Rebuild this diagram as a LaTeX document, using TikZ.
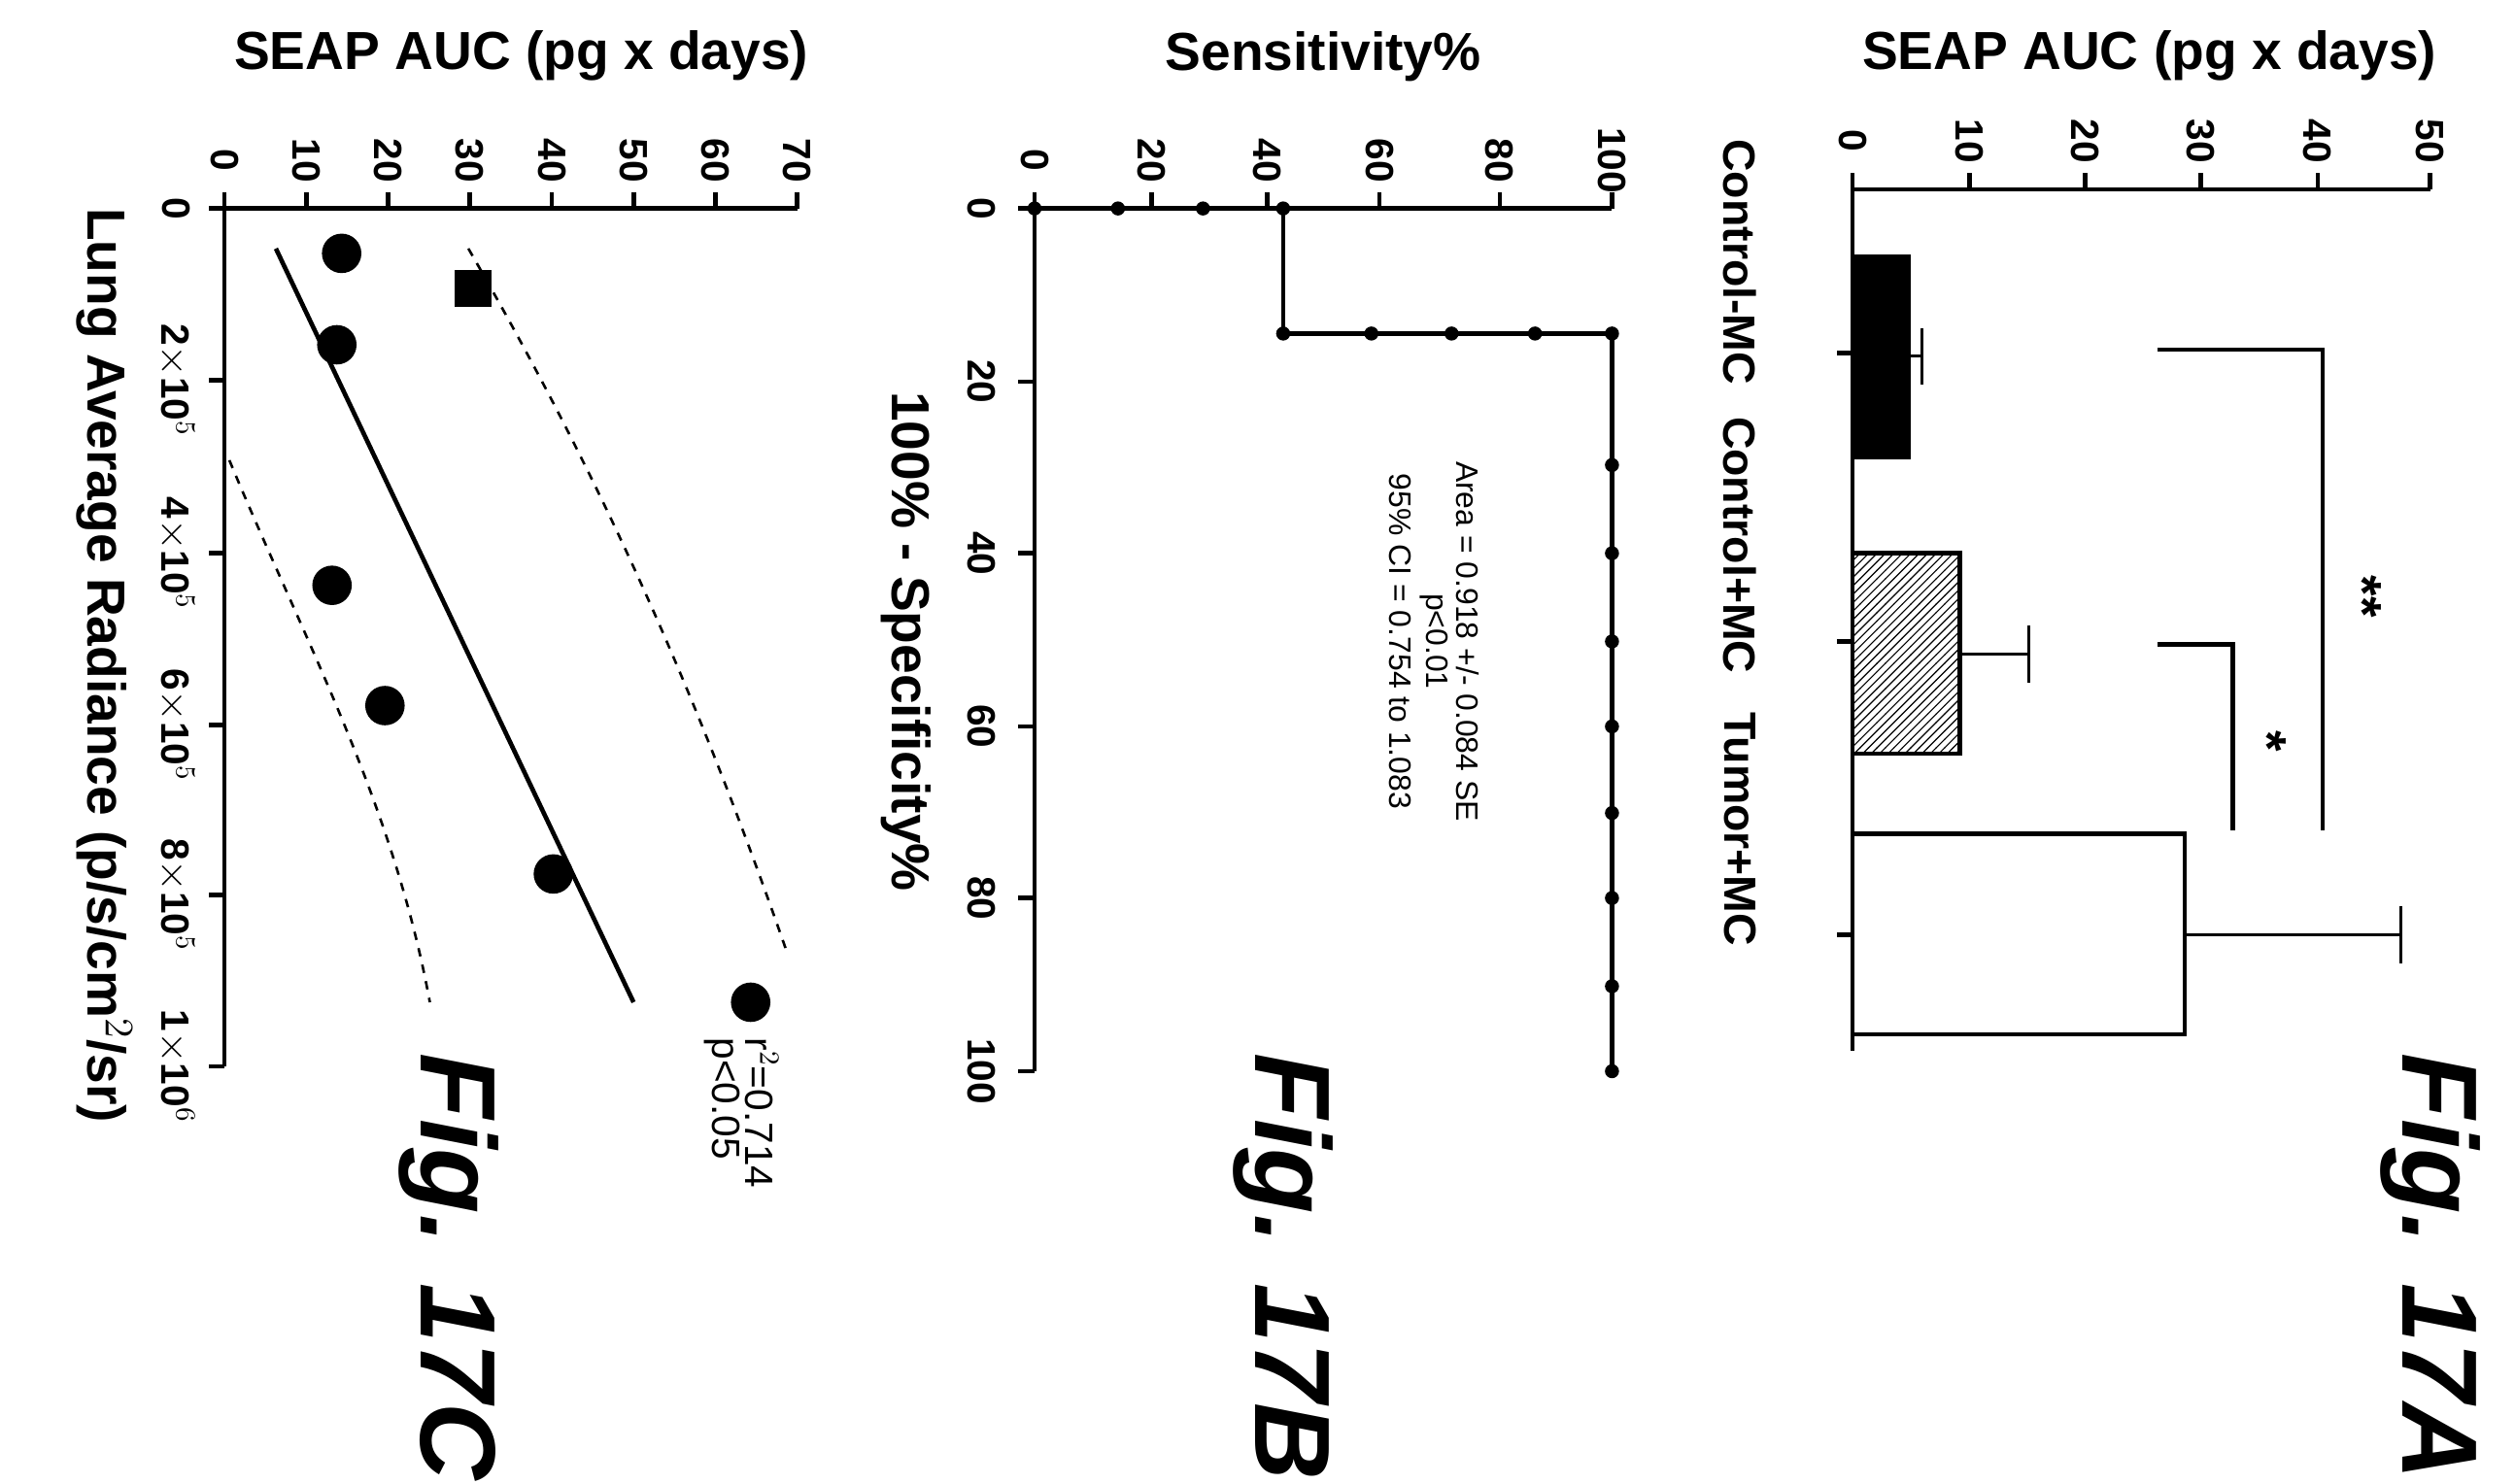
\documentclass[tikz,border=0pt]{standalone}
\usepackage{fontspec}
\setmainfont{Liberation Sans}
\usetikzlibrary{patterns}
\begin{document}
\begin{tikzpicture}[x=0.02cm,y=-0.02cm,
  ax/.style={line width=1.6pt},
  tk/.style={font=\fontsize{14}{15}\selectfont\bfseries,rotate=-90,inner sep=1pt},
  ttl/.style={font=\fontsize{19}{20}\selectfont\bfseries,inner sep=1pt},
  figl/.style={font=\fontsize{38}{40}\selectfont\bfseries\itshape,rotate=-90},
  sm/.style={font=\fontsize{11}{12}\selectfont,rotate=-90,inner sep=1pt},
  dot/.style={circle,fill=black,inner sep=0pt,minimum size=14pt},
  rd/.style={circle,fill=black,inner sep=0pt,minimum size=5pt}]
\useasboundingbox (0,0) rectangle (1568,925);
% ================= Panel A =================
\node[ttl] (ta) at (1340,35) {SEAP AUC (pg x days)};
\draw[ax] (1155,118) -- (1515,118);
\draw[ax] (1155,118) -- (1155,655);
\foreach \v/\x in {0/1155,10/1228,20/1300,30/1372,40/1445,50/1515}{
  \draw[ax] (\x,118) -- (\x,108);
  \node[tk] at (\x,88) {\v};}
\foreach \y in {220,400,583}{\draw[ax] (1155,\y) -- (1145,\y);}
\node[tk,anchor=east,font=\fontsize{16}{17}\selectfont\bfseries] at (1085,242) {Control-MC};
\node[tk,anchor=east,font=\fontsize{16}{17}\selectfont\bfseries] at (1085,422) {Control+MC};
\node[tk,anchor=east,font=\fontsize{16}{17}\selectfont\bfseries] at (1085,592) {Tumor+MC};
% bars
\draw[ax,fill=black] (1155,160) rectangle (1190,285);
\draw[line width=1pt] (1190,222) -- (1198,222) (1198,205) -- (1198,240);
\draw[ax,pattern=north east lines,pattern color=black] (1155,345) rectangle (1222,470);
\draw[line width=1pt] (1222,408) -- (1265,408) (1265,390) -- (1265,426);
\draw[ax,fill=white] (1155,520) rectangle (1362,645);
\draw[line width=1pt] (1362,583) -- (1497,583) (1497,565) -- (1497,601);
% brackets
\draw[ax] (1345,218) -- (1448,218) -- (1448,518);
\draw[ax] (1345,402) -- (1392,402) -- (1392,518);
\node[ttl,rotate=-90] at (1473,372) {**};
\node[ttl,rotate=-90] at (1414,462) {*};
\node[figl] (fa) at (1515,790) {Fig. 17A};
% ================= Panel B =================
\node[ttl] (tb) at (825,35) {Sensitivity\%};
\draw[ax] (645,130) -- (1005,130);
\draw[ax] (645,130) -- (645,668);
\foreach \v/\x in {0/645,20/718,40/790,60/860,80/935,100/1005}{
  \draw[ax] (\x,130) -- (\x,120);
  \node[tk] at (\x,100) {\v};}
\foreach \v/\y in {0/130,20/238,40/345,60/453,80/560,100/668}{
  \draw[ax] (645,\y) -- (635,\y);
  \node[tk] at (612,\y) {\v};}
\node[ttl,rotate=-90] (xb) at (565,400) {100\% - Specificity\%};
\draw[ax] (645,130) -- (800,130) -- (800,208) -- (1005,208) -- (1005,668);
\foreach \x in {645,697,750,800}{\node[rd] at (\x,130) {};}
\foreach \x in {800,855,905,957,1005}{\node[rd] at (\x,208) {};}
\foreach \y in {290,345,400,453,507,560,615,668}{\node[rd] at (1005,\y) {};}
\node[sm] at (915,400) {Area = 0.918 +/- 0.084 SE};
\node[sm] at (894,400) {p<0.01};
\node[sm] at (873,400) {95\% CI = 0.754 to 1.083};
\node[figl] (fb) at (800,790) {Fig. 17B};
% ================= Panel C =================
\node[ttl] (tc) at (325,35) {SEAP AUC (pg x days)};
\draw[ax] (140,130) -- (497,130);
\draw[ax] (140,130) -- (140,665);
\foreach \v [count=\i from 0] in {0,10,20,30,40,50,60,70}{
  \pgfmathsetmacro\xx{140+51*\i}
  \draw[ax] (\xx,130) -- (\xx,120);
  \node[tk] at (\xx,100) {\v};}
\foreach \y in {130,237,345,452,558,665}{\draw[ax] (140,\y) -- (130,\y);}
\node[tk] at (110,130) {0};
\node[tk] at (110,237) {2$\times$10$^5$};
\node[tk] at (110,345) {4$\times$10$^5$};
\node[tk] at (110,452) {6$\times$10$^5$};
\node[tk] at (110,558) {8$\times$10$^5$};
\node[tk] at (110,665) {1$\times$10$^6$};
\node[ttl,rotate=-90] (xc) at (65,415) {Lung Average Radiance (p/s/cm$^2$/sr)};
\draw[line width=1.6pt] (172,155) -- (395,625);
\draw[dashed,line width=0.9pt] (292,155) .. controls (370,290) and (430,420) .. (490,592);
\draw[dashed,line width=0.9pt] (143,287) .. controls (190,400) and (245,500) .. (268,625);
\foreach \x/\y in {213/158,210/215,207/365,240/440,345/545,468/625}{\node[dot] at (\x,\y) {};}
\node[fill=black,minimum size=13pt,inner sep=0pt] at (295,180) {};
\node[tk,anchor=west,font=\fontsize{14}{15}\selectfont] at (475,645) {r$^2$=0.714};
\node[tk,anchor=west,font=\fontsize{14}{15}\selectfont] at (450,645) {p<0.05};
\node[figl] (fc) at (280,790) {Fig. 17C};
\end{tikzpicture}
\end{document}
